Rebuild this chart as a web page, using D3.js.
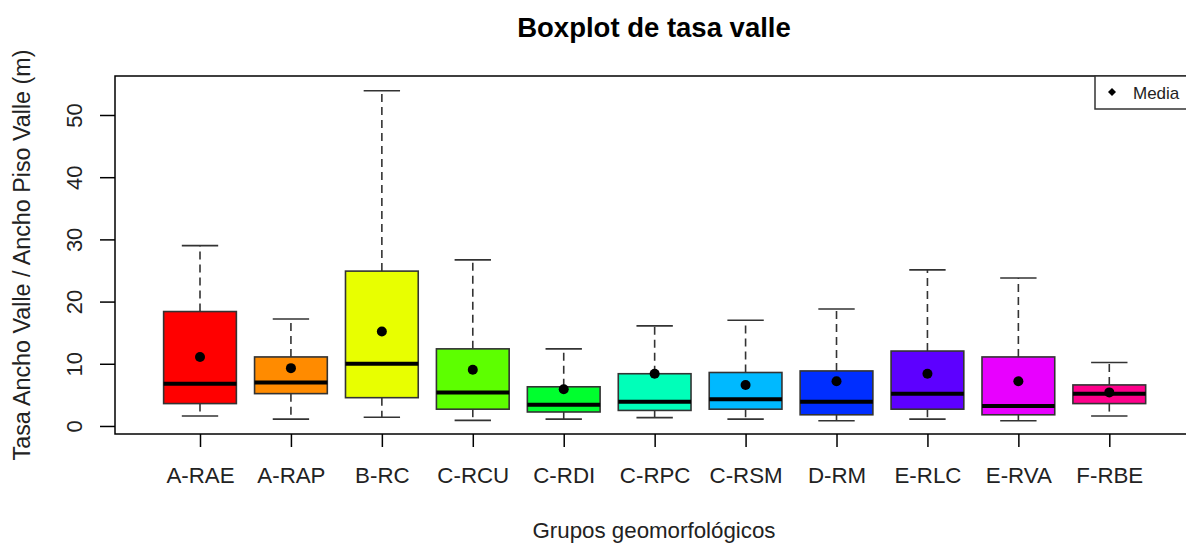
<!DOCTYPE html>
<html>
<head>
<meta charset="utf-8">
<script src="https://cdn.jsdelivr.net/npm/d3@7"></script>
<style>
  html, body { margin: 0; padding: 0; background: #fff; }
  svg { display: block; font-family: "Liberation Sans", Arial, sans-serif; }
</style>
</head>
<body>
<svg id="chart" width="1186" height="544"></svg>
<script>
// grupos y estadisticos
const categories = ["A-RAE", "A-RAP", "B-RC", "C-RCU", "C-RDI", "C-RPC", "C-RSM", "D-RM", "E-RLC", "E-RVA", "F-RBE"];
const lowWhisker = [1.6, 1.1, 1.4, 0.9, 1.1, 1.35, 1.1, 0.85, 1.1, 0.85, 1.6];
const q1 = [3.6, 5.2, 4.55, 2.7, 2.25, 2.5, 2.7, 1.8, 2.7, 1.8, 3.6];
const medians = [6.8, 7.0, 10.0, 5.4, 3.4, 3.9, 4.3, 3.9, 5.2, 3.2, 5.2];
const q3 = [18.4, 11.1, 24.9, 12.4, 6.3, 8.4, 8.6, 8.85, 12.05, 11.1, 6.6];
const highWhisker = [29.0, 17.2, 53.9, 26.7, 12.4, 16.1, 17.0, 18.8, 25.1, 23.8, 10.2];
const means = [11.1, 9.3, 15.2, 9.05, 5.9, 8.4, 6.6, 7.2, 8.4, 7.2, 5.4];
const yTicks = [0, 10, 20, 30, 40, 50];
// rainbow(11)
const colors = ["#FF0000", "#FF8B00", "#E8FF00", "#5DFF00", "#00FF2E", "#00FFB9", "#00B9FF", "#002EFF", "#5D00FF", "#E800FF", "#FF008B"];

const svg = d3.select("#chart");
const plotLeft = 115, plotRight = 1193, plotTop = 76, plotBottom = 434;

let x = d3.scalePoint()
    .domain(categories)
    .range([200, 1109.3]);

let y = d3.scaleLinear()
    .domain([-1.29, 56.27])
    .range([plotBottom, plotTop]);

let boxW = x.step() * 0.8,
    capW = boxW / 2;

let data = categories.map(function (c, i) {
    return { cat: c, lo: lowWhisker[i], q1: q1[i], med: medians[i], q3: q3[i], hi: highWhisker[i], mean: means[i], color: colors[i] };
});

let g = svg.append("g");

let boxes = g.selectAll(".box")
    .data(data)
    .enter()
    .append("g")
    .attr("class", "box");

// bigotes
boxes.append("line")
    .attr("x1", d => x(d.cat)).attr("x2", d => x(d.cat))
    .attr("y1", d => y(d.q3)).attr("y2", d => y(d.hi))
    .attr("stroke", "#333").attr("stroke-width", 1.6).attr("stroke-dasharray", "8,5");
boxes.append("line")
    .attr("x1", d => x(d.cat)).attr("x2", d => x(d.cat))
    .attr("y1", d => y(d.q1)).attr("y2", d => y(d.lo))
    .attr("stroke", "#333").attr("stroke-width", 1.6).attr("stroke-dasharray", "8,5");
boxes.append("line")
    .attr("x1", d => x(d.cat) - capW / 2).attr("x2", d => x(d.cat) + capW / 2)
    .attr("y1", d => y(d.hi)).attr("y2", d => y(d.hi))
    .attr("stroke", "#333").attr("stroke-width", 1.6);
boxes.append("line")
    .attr("x1", d => x(d.cat) - capW / 2).attr("x2", d => x(d.cat) + capW / 2)
    .attr("y1", d => y(d.lo)).attr("y2", d => y(d.lo))
    .attr("stroke", "#333").attr("stroke-width", 1.6);

// cajas
boxes.append("rect")
    .attr("x", d => x(d.cat) - boxW / 2)
    .attr("width", boxW)
    .attr("y", d => y(d.q3))
    .attr("height", d => y(d.q1) - y(d.q3))
    .attr("fill", d => d.color)
    .attr("stroke", "#333")
    .attr("stroke-width", 1.6);

// medianas
boxes.append("line")
    .attr("x1", d => x(d.cat) - boxW / 2).attr("x2", d => x(d.cat) + boxW / 2)
    .attr("y1", d => y(d.med)).attr("y2", d => y(d.med))
    .attr("stroke", "#000").attr("stroke-width", 4);

// medias
boxes.append("circle")
    .attr("cx", d => x(d.cat))
    .attr("cy", d => y(d.mean))
    .attr("r", 5)
    .attr("fill", "#000");

// marco
svg.append("rect")
    .attr("x", plotLeft).attr("y", plotTop)
    .attr("width", plotRight - plotLeft).attr("height", plotBottom - plotTop)
    .attr("fill", "none").attr("stroke", "#000").attr("stroke-width", 1.5);

// eje y
let yAxis = svg.append("g")
    .attr("transform", "translate(" + plotLeft + ",0)")
    .call(d3.axisLeft(y).tickValues(yTicks).tickSize(15).tickSizeOuter(0));
yAxis.select(".domain").remove();
yAxis.selectAll(".tick line").attr("stroke", "#000").attr("stroke-width", 1.5);
yAxis.selectAll(".tick text")
    .attr("x", 0).attr("y", 0).attr("dy", 0)
    .attr("transform", "translate(-33,0) rotate(-90)")
    .attr("text-anchor", "middle")
    .attr("font-size", 22)
    .attr("fill", "#222")
    .attr("font-family", "Liberation Sans, Arial, sans-serif");

// eje x
let xAxis = svg.append("g")
    .attr("transform", "translate(0," + plotBottom + ")")
    .call(d3.axisBottom(x).tickSize(13).tickSizeOuter(0));
xAxis.select(".domain").remove();
xAxis.selectAll(".tick line").attr("stroke", "#000").attr("stroke-width", 1.5);
xAxis.selectAll(".tick text")
    .attr("y", 49).attr("dy", 0)
    .attr("font-size", 22.3)
    .attr("fill", "#222")
    .attr("font-family", "Liberation Sans, Arial, sans-serif");

// titulos
svg.append("text")
    .attr("x", (plotLeft + plotRight) / 2).attr("y", 37)
    .attr("text-anchor", "middle")
    .attr("font-size", 27.5).attr("font-weight", "bold")
    .text("Boxplot de tasa valle");

svg.append("text")
    .attr("x", (plotLeft + plotRight) / 2).attr("y", 538)
    .attr("text-anchor", "middle")
    .attr("font-size", 22.3).attr("fill", "#222")
    .text("Grupos geomorfológicos");

svg.append("text")
    .attr("transform", "translate(30," + (plotTop + plotBottom) / 2 + ") rotate(-90)")
    .attr("text-anchor", "middle")
    .attr("font-size", 23.3).attr("fill", "#222")
    .text("Tasa Ancho Valle / Ancho Piso Valle (m)");

// leyenda
let leg = svg.append("g");
leg.append("rect")
    .attr("x", 1095).attr("y", plotTop)
    .attr("width", plotRight - 1095).attr("height", 33)
    .attr("fill", "#fff").attr("stroke", "#333").attr("stroke-width", 1.5);
leg.append("path")
    .attr("d", d3.symbol().type(d3.symbolSquare).size(32)())
    .attr("transform", "translate(1112,92) rotate(45)")
    .attr("fill", "#000");
leg.append("text")
    .attr("x", 1133).attr("y", 98.5)
    .attr("font-size", 17).attr("fill", "#222")
    .text("Media");
</script>
</body>
</html>
